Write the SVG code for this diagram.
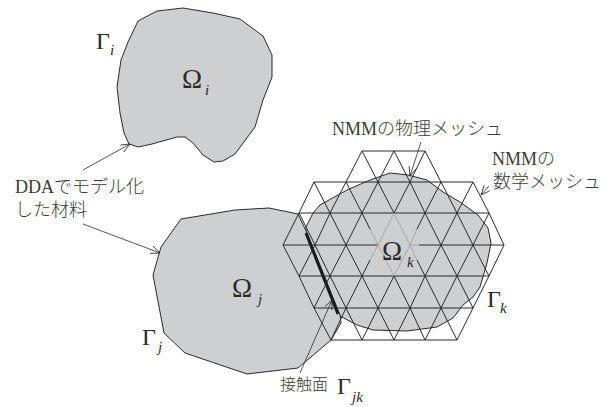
<svg xmlns="http://www.w3.org/2000/svg" width="614" height="407" viewBox="0 0 614 407">
<style>
.body{fill:#cdcfd1;stroke:#2a2a2a;stroke-width:1}
.mesh line{stroke:#2a2a2a;stroke-width:1}
.mesh line.g{stroke:#a8a8a8}
.ar{fill:none;stroke:#2a2a2a;stroke-width:.8;marker-end:url(#a)}
text{font-family:"Liberation Serif","Noto Sans CJK JP",serif;fill:#2a2a2a}
.l{font-size:18px;fill:#3a3a3a;font-weight:300}
.m{font-size:16px;fill:#3a3a3a;font-weight:300}
.G{font-size:24px}
.O{font-size:27px}
.s{font-size:15px;font-style:italic}
</style>
<defs><marker id="a" markerUnits="userSpaceOnUse" markerWidth="12" markerHeight="10" refX="9.5" refY="4" orient="auto"><path d="M0 0L9.5 4L0 8" fill="none" stroke="#2a2a2a" stroke-width=".8"/></marker></defs>
<g id="body-i"><polygon class="body" points="138,21 157,11 183,8 213,13 240,19 263,36 272,55 272,77 263,100 255,127 235,154 223,161 214,162 203,155 193,143 185,137 177,137 152,144 138,147 129,144 124,133 120,113 117,87 121,60 128,42"/>
<text class="O" x="182" y="88">Ω</text><text class="s" x="205" y="95">i</text></g>
<g id="body-k"><polygon class="body" points="306,227 313,213 320,205 347,190 370,180 390,173 408,175 427,180 443,192 460,202 478,215 488,228 491,243 487,263 480,287 473,297 463,305 453,318 437,327 407,331 373,330 357,325 340,316 306,233"/></g>
<g id="body-j"><polygon class="body" points="181,219 235,210 269,208 298,214 307,233 340,315 341,323 331,340 298,368 247,374 185,353 164,333 153,275 161,247"/></g>
<g id="contact"><line x1="306" y1="233" x2="338" y2="314" stroke="#1a1a1a" stroke-width="3"/></g>
<g id="mesh" class="mesh">
<line x1="362" y1="151" x2="425" y2="151"/>
<line x1="314" y1="182" x2="473" y2="182"/>
<line x1="299" y1="213" x2="489" y2="213"/>
<line x1="283" y1="245" x2="378" y2="245"/>
<line class="g" x1="410" y1="245" x2="419" y2="245"/>
<line x1="419" y1="245" x2="504" y2="245"/>
<line x1="299" y1="276" x2="489" y2="276"/>
<line x1="314" y1="308" x2="473" y2="308"/>
<line x1="331" y1="340" x2="457" y2="340"/>
<line x1="362" y1="151" x2="346" y2="182"/><line x1="362" y1="151" x2="378" y2="182"/><line x1="394" y1="151" x2="378" y2="182"/><line x1="394" y1="151" x2="410" y2="182"/><line x1="425" y1="151" x2="410" y2="182"/><line x1="425" y1="151" x2="441" y2="182"/>
<line x1="314" y1="182" x2="299" y2="213"/><line x1="314" y1="182" x2="330" y2="213"/><line x1="346" y1="182" x2="330" y2="213"/><line x1="346" y1="182" x2="362" y2="213"/><line x1="378" y1="182" x2="362" y2="213"/><line x1="378" y1="182" x2="394" y2="213"/><line x1="410" y1="182" x2="394" y2="213"/><line x1="410" y1="182" x2="425" y2="213"/><line x1="441" y1="182" x2="425" y2="213"/><line x1="441" y1="182" x2="457" y2="213"/><line x1="473" y1="182" x2="457" y2="213"/><line x1="473" y1="182" x2="489" y2="213"/>
<line x1="299" y1="213" x2="283" y2="245"/><line x1="299" y1="213" x2="315" y2="245"/><line x1="330" y1="213" x2="315" y2="245"/><line x1="330" y1="213" x2="346" y2="245"/><line x1="362" y1="213" x2="346" y2="245"/><line x1="362" y1="213" x2="370" y2="229"/><line class="g" x1="370" y1="229" x2="378" y2="245"/><line class="g" x1="394" y1="213" x2="378" y2="245"/><line class="g" x1="394" y1="213" x2="410" y2="245"/><line x1="425" y1="213" x2="417" y2="229"/><line class="g" x1="417" y1="229" x2="410" y2="245"/><line x1="425" y1="213" x2="441" y2="245"/><line x1="457" y1="213" x2="441" y2="245"/><line x1="457" y1="213" x2="473" y2="245"/><line x1="489" y1="213" x2="473" y2="245"/><line x1="489" y1="213" x2="504" y2="245"/>
<line x1="283" y1="245" x2="299" y2="276"/><line x1="315" y1="245" x2="299" y2="276"/><line x1="315" y1="245" x2="330" y2="276"/><line x1="346" y1="245" x2="330" y2="276"/><line x1="346" y1="245" x2="362" y2="276"/><line class="g" x1="378" y1="245" x2="370" y2="260"/><line x1="370" y1="260" x2="362" y2="276"/><line class="g" x1="378" y1="245" x2="394" y2="276"/><line class="g" x1="410" y1="245" x2="394" y2="276"/><line class="g" x1="410" y1="245" x2="417" y2="260"/><line x1="417" y1="260" x2="425" y2="276"/><line x1="441" y1="245" x2="425" y2="276"/><line x1="441" y1="245" x2="457" y2="276"/><line x1="473" y1="245" x2="457" y2="276"/><line x1="473" y1="245" x2="489" y2="276"/><line x1="504" y1="245" x2="489" y2="276"/>
<line x1="299" y1="276" x2="314" y2="308"/><line x1="330" y1="276" x2="314" y2="308"/><line x1="330" y1="276" x2="346" y2="308"/><line x1="362" y1="276" x2="346" y2="308"/><line x1="362" y1="276" x2="378" y2="308"/><line x1="394" y1="276" x2="378" y2="308"/><line x1="394" y1="276" x2="410" y2="308"/><line x1="425" y1="276" x2="410" y2="308"/><line x1="425" y1="276" x2="441" y2="308"/><line x1="457" y1="276" x2="441" y2="308"/><line x1="457" y1="276" x2="473" y2="308"/><line x1="489" y1="276" x2="473" y2="308"/>
<line x1="314" y1="308" x2="331" y2="340"/><line x1="346" y1="308" x2="331" y2="340"/><line x1="346" y1="308" x2="362" y2="340"/><line x1="378" y1="308" x2="362" y2="340"/><line x1="378" y1="308" x2="394" y2="340"/><line x1="410" y1="308" x2="394" y2="340"/><line x1="410" y1="308" x2="425" y2="340"/><line x1="441" y1="308" x2="425" y2="340"/><line x1="441" y1="308" x2="457" y2="340"/><line x1="473" y1="308" x2="457" y2="340"/>
</g>
<g id="connectors">
<path class="ar" d="M83 170L130 144"/>
<path class="ar" d="M83 224L160 253"/>
<path class="ar" d="M421 142L410 176"/>
<path class="ar" d="M489 186L481 195"/>
<path class="ar" d="M300 373L332 300"/>
</g>
<g id="labels">
<text class="G" x="96" y="49">Γ</text><text class="s" x="110" y="55">i</text>
<text class="O" x="232" y="297">Ω</text><text class="s" x="258" y="304">j</text>
<text class="G" x="142" y="345">Γ</text><text class="s" x="158" y="352">j</text>
<text class="O" x="382" y="260">Ω</text><text class="s" x="407" y="267">k</text>
<text class="G" x="487" y="307">Γ</text><text class="s" x="500" y="313">k</text>
<text class="m" x="280" y="390">接触面</text>
<text class="G" x="337" y="394">Γ</text><text class="s" x="352" y="402">jk</text>
<text class="l" x="332" y="135">NMMの物理メッシュ</text>
<text class="l" x="492" y="165">NMMの</text>
<text class="l" x="493" y="188">数学メッシュ</text>
<text class="l" x="15" y="193">DDAでモデル化</text>
<text class="l" x="15" y="216">した材料</text>
</g>
</svg>
